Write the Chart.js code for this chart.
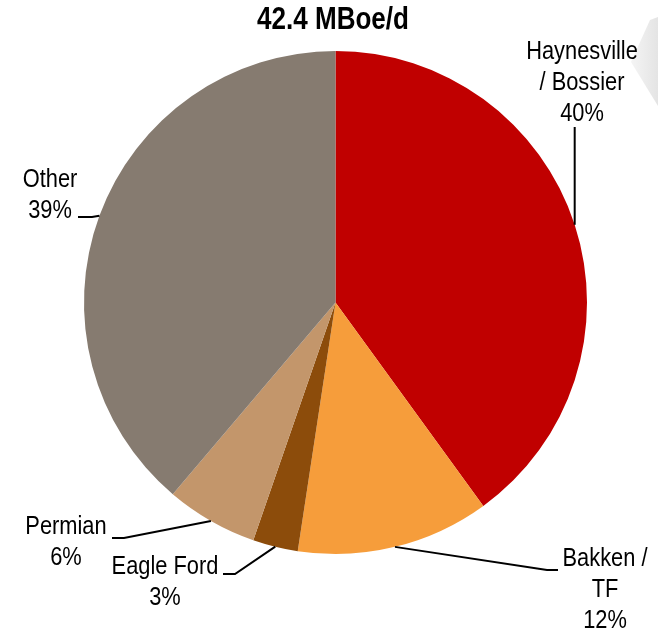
<!DOCTYPE html>
<html lang="en">
<head>
    <meta charset="UTF-8">
    <title>42.4 MBoe/d</title>
    <script src="https://cdn.jsdelivr.net/npm/chart.js"></script>
    <style>
        body { margin: 0; background: #fff; }
    </style>
</head>
<body>
    <canvas id="myChart" width="658" height="634"></canvas>

    <script>
        // data (share of 42.4 MBoe/d, %)
        const plays = ["Haynesville / Bossier", "Bakken / TF", "Eagle Ford", "Permian", "Other"];
        const shares = [40.0, 12.4, 2.9, 5.9, 38.8];
        const labelLines = [["Haynesville", "/ Bossier"], ["Bakken /", "TF"], ["Eagle Ford"], ["Permian"], ["Other"]];
        const sliceColors = ['#C00000', '#F69D3B', '#8C4C0B', '#C3966B', '#867B70'];
        const titleText = '42.4 MBoe/d';

        // no narrow font installed, so squeeze Liberation Sans sideways
        const FONT = '"Liberation Sans", Arial, sans-serif';
        const SQUEEZE = 0.84;

        // where each label sits and how its leader line bends (first point is the slice edge)
        const labelLayout = [
            { x: 582, y: 52, bend: [[null, 127]] },            // vertical line up to the label
            { x: 605, y: 559, bend: [[547, 570], [558, 570]] },
            { x: 165, y: 567, bend: [[235, 574], [223, 574]] },
            { x: 66, y: 527, bend: [[124, 538], [112, 538]] },
            { x: 50, y: 180, bend: [[92, 217], [78, 217]] }
        ];

        function narrowText(c, txt, x, y) {
            c.save();
            c.translate(x, y);
            c.scale(SQUEEZE, 1);
            c.fillText(txt, 0, 0);
            c.restore();
        }

        const labelsPlugin = {
            id: 'outsideLabels',
            beforeDraw(chart) {
                const c = chart.ctx;
                c.save();
                c.fillStyle = '#fff';
                c.fillRect(0, 0, chart.width, chart.height);
                // faint grey arrow shape in the top right corner
                const g = c.createLinearGradient(630, 0, 658, 0);
                g.addColorStop(0, '#f5f5f5');
                g.addColorStop(1, '#e4e4e4');
                c.fillStyle = g;
                c.beginPath();
                c.moveTo(631, 62);
                c.lineTo(650, 20);
                c.lineTo(658, 17);
                c.lineTo(658, 106);
                c.closePath();
                c.fill();
                c.restore();
            },
            afterDraw(chart) {
                const c = chart.ctx;
                const arcs = chart.getDatasetMeta(0).data;
                c.save();

                // title
                c.fillStyle = '#000';
                c.font = 'bold 31px ' + FONT;
                c.textAlign = 'center';
                c.textBaseline = 'middle';
                narrowText(c, titleText, 333, 20);

                c.strokeStyle = '#000';
                c.lineWidth = 2;
                c.font = '26px ' + FONT;
                arcs.forEach((arc, i) => {
                    const p = arc.getProps(['x', 'y', 'startAngle', 'endAngle', 'outerRadius'], true);
                    const mid = (p.startAngle + p.endAngle) / 2;
                    const ax = p.x + Math.cos(mid) * p.outerRadius;
                    const ay = p.y + Math.sin(mid) * p.outerRadius;
                    const lay = labelLayout[i];

                    c.beginPath();
                    c.moveTo(ax, ay);
                    lay.bend.forEach(pt => c.lineTo(pt[0] === null ? ax : pt[0], pt[1]));
                    c.stroke();

                    const lines = labelLines[i].concat([Math.round(shares[i]) + '%']);
                    lines.forEach((txt, k) => narrowText(c, txt, lay.x, lay.y + k * 30.8));
                });
                c.restore();
            }
        };

        const ctx = document.getElementById('myChart').getContext('2d');
        const myChart = new Chart(ctx, {
            type: 'pie',
            data: {
                labels: plays,
                datasets: [{
                    data: shares,
                    backgroundColor: sliceColors,
                    borderWidth: 0
                }]
            },
            options: {
                responsive: false,
                animation: false,
                devicePixelRatio: 1,
                layout: { padding: { left: 84, right: 71, top: 51, bottom: 80 } },
                plugins: {
                    legend: { display: false },
                    tooltip: { enabled: false }
                }
            },
            plugins: [labelsPlugin]
        });
    </script>
</body>
</html>
